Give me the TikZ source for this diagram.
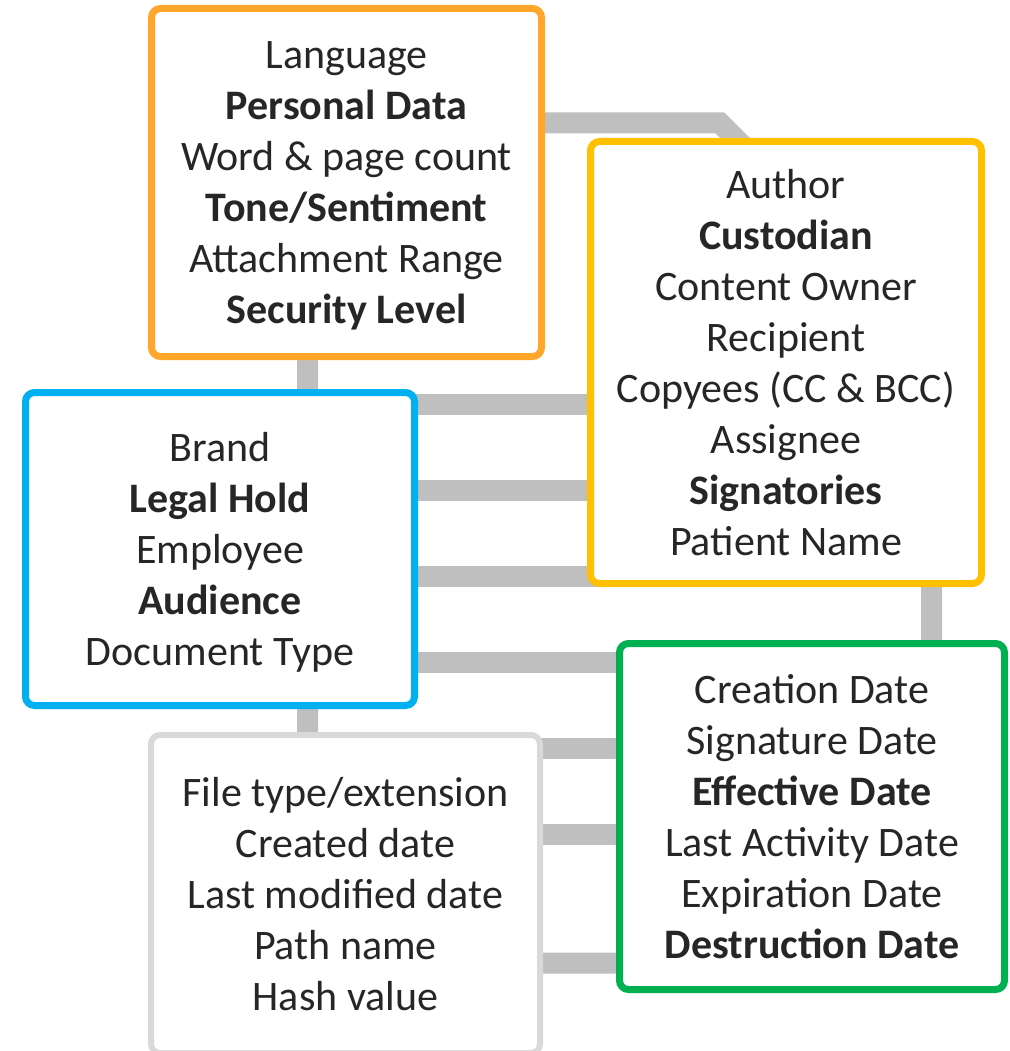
\documentclass[tikz,border=0pt]{standalone}
\usepackage{fontspec}
\setmainfont{Carlito}
\usepackage{tikz}

\definecolor{boxorange}{HTML}{FFA62B}
\definecolor{boxyellow}{HTML}{FFC000}
\definecolor{boxblue}{HTML}{00B0F0}
\definecolor{boxgreen}{HTML}{00B050}
\definecolor{boxgray}{HTML}{D9D9D9}
\definecolor{docgray}{HTML}{BFBFBF}
\definecolor{textgray}{HTML}{262626}

\newcommand{\flatline}[1]{\raisebox{0pt}[\height][0pt]{#1}}

\tikzset{
  infobox/.style={draw=#1, line width=7pt, rounded corners=9pt, fill=white,
    align=center, text=textgray, inner sep=0pt,
    font=\fontsize{42}{51}\selectfont},
  docline/.style={draw=docgray, line width=21pt},
}

\begin{document}
\begin{tikzpicture}[x=1pt,y=-1pt]
\useasboundingbox (0,0) rectangle (1009,1051);
% document sheet behind the boxes
\draw[docline, line join=miter] (307.5,963) -- (307.5,123) -- (720,123) -- (931.5,334.5) -- (931.5,963) -- cycle;
\foreach \y in {404,490,576,662,748,834}
  \draw[docline] (307.5,\y) -- (931.5,\y);

\node[infobox=boxorange, minimum width=390pt, minimum height=348pt] (content) at (346.5,182.5)
  {Language\\\textbf{Personal Data}\\Word \& page count\\\textbf{Tone/Sentiment}\\Attachment Range\\\flatline{\textbf{Security Level}}};
\node[infobox=boxyellow, minimum width=391pt, minimum height=442pt] (people) at (786,362.5)
  {Author\\\textbf{Custodian}\\Content Owner\\Recipient\\Copyees (CC \& BCC)\\Assignee\\\textbf{Signatories}\\Patient Name};
\node[infobox=boxblue, minimum width=389pt, minimum height=313pt] (business) at (220,549)
  {Brand\\\textbf{Legal Hold}\\Employee\\\textbf{Audience}\\\flatline{Document Type}};
\node[infobox=boxgreen, minimum width=385pt, minimum height=346pt] (dates) at (812,816.5)
  {Creation Date\\Signature Date\\\textbf{Effective Date}\\Last Activity Date\\Expiration Date\\\textbf{Destruction Date}};
\node[infobox=boxgray, line width=6pt, minimum width=389pt, minimum height=318pt] (system) at (345.5,894)
  {File type/extension\\Created date\\Last modified date\\Path name\\Hash value};
\end{tikzpicture}
\end{document}
